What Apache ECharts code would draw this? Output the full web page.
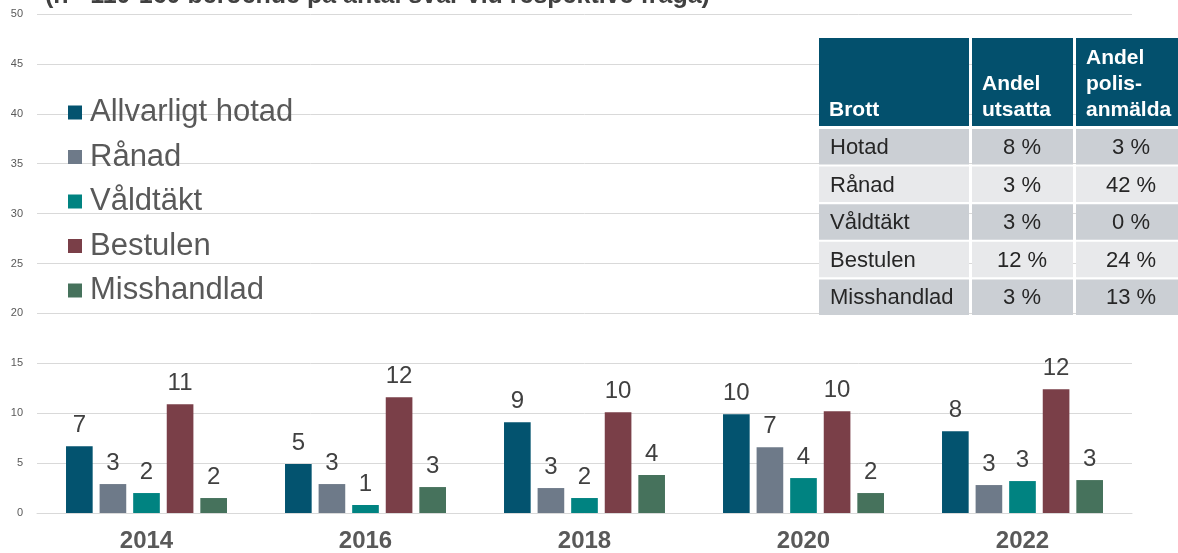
<!DOCTYPE html>
<html>
<head>
<meta charset="utf-8">
<script src="https://cdn.jsdelivr.net/npm/echarts@6/dist/echarts.min.js"></script>
<style>
  html, body { margin: 0; padding: 0; background: #fff; }
  #main { width: 1178px; height: 553px; }
</style>
</head>
<body>
<div id="main"></div>
<script>
var years = ['2014', '2016', '2018', '2020', '2022'];
var hotad = [6.7, 4.9, 9.1, 9.9, 8.2];
var ranad = [2.9, 2.9, 2.5, 6.6, 2.8];
var valdtakt = [2.0, 0.8, 1.5, 3.5, 3.2];
var bestulen = [10.9, 11.6, 10.1, 10.2, 12.4];
var misshandlad = [1.5, 2.6, 3.8, 2.0, 3.3];
var seriesNames = ['Allvarligt hotad', 'Rånad', 'Våldtäkt', 'Bestulen', 'Misshandlad'];
var seriesColors = ['#03536f', '#6e7a89', '#008381', '#7a3f48', '#46725c'];

var tableHead = ['Brott', 'Andel\nutsatta', 'Andel\npolis-\nanmälda'];
var tableCrimes = ['Hotad', 'Rånad', 'Våldtäkt', 'Bestulen', 'Misshandlad'];
var tableUtsatta = ['8 %', '3 %', '3 %', '12 %', '3 %'];
var tablePolis = ['3 %', '42 %', '0 %', '24 %', '13 %'];

var titleText = '(n= 110-160 beroende på antal svar vid respektive fråga)';

var font = "'Liberation Sans', Arial, sans-serif";
var chart = echarts.init(document.getElementById('main'));

var allValues = [hotad, ranad, valdtakt, bestulen, misshandlad];
var series = [];
for (var i = 0; i < seriesNames.length; i++) {
    series.push({
        name: seriesNames[i],
        type: 'bar',
        data: allValues[i],
        itemStyle: { color: seriesColors[i] },
        barGap: '26%',
        barCategoryGap: '26.5%',
        label: {
            show: true,
            position: 'top',
            distance: 9,
            fontFamily: font,
            fontSize: 24,
            color: '#404040',
            formatter: function(p) { return Math.round(p.value); }
        }
    });
}

// table drawn with graphic elements
var colX = [819, 972, 1076];
var colW = [150, 101, 104];
var graphic = [];
graphic.push({
    type: 'text', left: 45, top: -16, z: 10,
    style: { text: titleText, font: 'bold 25px ' + font, fill: '#404040' }
});
for (var c = 0; c < 3; c++) {
    graphic.push({
        type: 'rect', z: 10,
        shape: { x: colX[c], y: 38, width: colW[c], height: 88 },
        style: { fill: '#03506d' }
    });
    graphic.push({
        type: 'text', z: 11, x: colX[c] + 10, y: 123,
        style: {
            text: tableHead[c], font: 'bold 21px ' + font, fill: '#fff',
            lineHeight: 26, verticalAlign: 'bottom', align: 'left'
        }
    });
}
var colCells = [tableCrimes, tableUtsatta, tablePolis];
for (var r = 0; r < tableCrimes.length; r++) {
    var y0 = 129 + r * 37.6;
    for (var c = 0; c < 3; c++) {
        graphic.push({
            type: 'rect', z: 10,
            shape: { x: colX[c], y: y0, width: colW[c], height: 35.5 },
            style: { fill: r % 2 === 0 ? '#cbcfd4' : '#e8e9eb' }
        });
        graphic.push({
            type: 'text', z: 11,
            x: c === 0 ? colX[c] + 11 : (c === 1 ? 1022 : 1131),
            y: y0 + 19,
            style: {
                text: colCells[c][r], font: '22px ' + font, fill: '#262626',
                verticalAlign: 'middle', align: c === 0 ? 'left' : 'center'
            }
        });
    }
}

chart.setOption({
    animation: false,
    textStyle: { fontFamily: font },
    grid: { left: 37, right: 46, top: 14, bottom: 40, containLabel: false },
    legend: {
        orient: 'vertical',
        left: 63,
        top: 92,
        itemWidth: 14,
        itemHeight: 14,
        itemGap: 13.5,
        icon: 'rect',
        textStyle: { fontSize: 31, color: '#595959', fontFamily: font, lineHeight: 31, padding: [0, 0, 0, 3] },
        data: seriesNames
    },
    xAxis: {
        type: 'category',
        data: years,
        axisLine: { lineStyle: { color: '#d9d9d9' } },
        axisTick: { show: false },
        axisLabel: { fontSize: 24, fontWeight: 'bold', color: '#595959', margin: 16, fontFamily: font }
    },
    yAxis: {
        type: 'value',
        min: 0,
        max: 50,
        interval: 5,
        axisLine: { show: false },
        axisTick: { show: false },
        splitLine: { lineStyle: { color: '#d9d9d9' } },
        axisLabel: { fontSize: 11, color: '#595959', margin: 14, fontFamily: "'Liberation Sans Narrow', " + font }
    },
    graphic: graphic,
    series: series
});
</script>
</body>
</html>
